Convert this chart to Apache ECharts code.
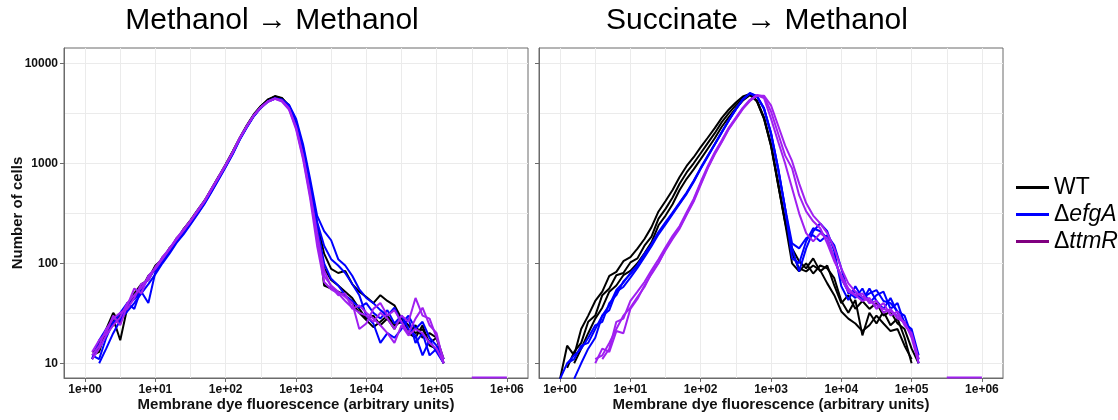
<!DOCTYPE html>
<html>
<head>
<meta charset="utf-8">
<script src="https://cdn.jsdelivr.net/npm/echarts@6/dist/echarts.min.js"></script>
<style>
  html, body { margin: 0; padding: 0; background: #fff; }
  #chart { width: 1118px; height: 420px; }
</style>
</head>
<body>
<div id="chart"></div>
<script>
// bin centres, log10 of membrane dye fluorescence
const LOG_FLUOR = [0.0, 0.1, 0.2, 0.3, 0.4, 0.5, 0.6, 0.7, 0.8, 0.9,
  1.0, 1.1, 1.2, 1.3, 1.4, 1.5, 1.6, 1.7, 1.8, 1.9,
  2.0, 2.1, 2.2, 2.3, 2.4, 2.5, 2.6, 2.7, 2.8, 2.9,
  3.0, 3.1, 3.2, 3.3, 3.4, 3.5, 3.6, 3.7, 3.8, 3.9,
  4.0, 4.1, 4.2, 4.3, 4.4, 4.5, 4.6, 4.7, 4.8, 4.9,
  5.0, 5.1];

// Methanol -> Methanol, number of cells per bin (3 replicates each)
const mmWT = [
  [null,12,13,22,32,25,40,44,60,70,95,110,140,170,220,265,335,420,560,740,980,1320,1800,2400,3100,3750,4300,4700,4500,3750,2450,1300,560,230,60,56,52,48,40,32,27,23,26,30,24,26,20,24,18,20,18,10],
  [null,11,16,19,28,17,36,48,55,75,86,115,135,178,210,260,325,410,540,710,940,1270,1760,2330,3000,3650,4250,4600,4400,3800,2550,1400,620,250,125,88,80,84,62,52,46,40,48,42,38,28,24,20,22,16,18,11],
  [null,13,14,21,24,30,34,50,62,68,92,108,142,165,218,270,340,425,555,730,960,1300,1780,2360,3050,3700,4350,4650,4450,3700,2400,1250,520,210,90,68,60,52,45,35,28,30,24,28,22,30,20,18,24,15,14,10]
];
const mmEfgA = [
  [null,12,11,18,26,28,38,44,52,40,82,105,130,165,200,250,315,400,525,700,930,1250,1740,2300,2980,3600,4150,4450,4350,3850,2800,1550,700,300,210,170,110,95,75,55,45,40,34,30,36,25,30,22,26,18,15,11],
  [null,null,10,14,20,27,33,40,50,62,78,100,125,160,195,245,310,395,520,690,920,1230,1720,2280,2950,3580,4120,4420,4300,3750,2650,1450,640,260,150,110,95,80,62,48,30,25,16,20,18,22,28,16,20,12,14,11],
  [null,11,17,22,25,32,40,35,56,70,88,108,136,170,212,258,325,410,540,715,945,1270,1760,2320,3000,3620,4180,4480,4320,3700,2500,1350,580,230,100,70,60,48,42,36,40,32,28,34,25,30,22,19,12,17,13,10]
];
const mmTtmR = [
  [null,13,17,20,30,24,38,56,50,75,90,115,140,178,218,268,338,425,560,735,970,1300,1790,2360,3040,3640,4150,4420,4150,3450,2200,1100,450,150,65,55,50,42,36,32,30,26,32,28,22,30,26,45,30,28,18,11],
  [null,12,15,22,28,32,35,45,62,68,92,112,140,175,215,265,335,420,555,730,960,1290,1780,2350,3020,3630,4140,4430,4200,3500,2280,1150,480,180,75,60,52,46,40,22,25,35,40,30,34,26,20,28,36,24,20,10],
  [null,11,14,19,24,29,40,48,57,73,88,110,138,172,212,262,330,415,548,722,950,1280,1770,2340,3010,3620,4150,4450,4250,3550,2320,1200,510,200,85,58,48,50,35,38,32,28,24,20,16,24,19,22,20,16,14,10]
];

// Succinate -> Methanol
const smWT = [
  [7,15,12,22,30,42,52,75,82,105,115,140,175,230,330,420,540,730,940,1150,1450,1800,2250,2850,3450,4050,4650,4950,4200,2800,1500,620,260,126,89,83,95,85,63,48,33,28,25,21,24,30,25,21,22,15,11,null],
  [null,9,13,16,26,30,48,56,76,80,102,112,150,185,280,350,455,625,810,1000,1260,1590,2000,2580,3180,3820,4480,4900,4150,2800,1500,620,255,100,83,100,79,95,89,71,42,32,43,19,32,25,33,24,28,18,10,null],
  [null,null,10,14,20,28,36,52,60,76,84,100,126,162,240,300,390,540,700,870,1100,1400,1780,2320,2900,3550,4250,4800,4250,2900,1560,650,270,141,105,89,112,83,95,60,40,48,35,42,35,40,30,33,25,22,14,10]
];
const smEfgA = [
  [7,10,12,14,18,24,26,40,48,66,78,96,124,155,205,258,322,405,510,670,900,1190,1560,2060,2700,3480,4380,5000,4650,3500,1950,870,350,141,83,141,209,251,209,132,59,43,59,45,50,54,42,40,33,30,19,11],
  [null,null,7,10,14,18,30,34,52,58,72,90,115,148,195,245,310,392,495,650,880,1160,1540,2030,2680,3450,4350,5050,4700,3580,2020,910,360,112,100,166,224,209,178,112,71,52,45,56,40,48,52,35,40,25,22,12],
  [null,10,11,15,16,22,30,38,54,64,80,95,122,152,202,250,318,400,505,660,890,1180,1550,2050,2700,3470,4370,4980,4680,3560,2000,900,360,158,141,178,191,166,191,151,89,50,52,42,56,42,35,45,32,26,20,10]
];
const smTtmR = [
  [null,null,null,null,null,11,12,16,22,30,36,46,58,80,102,135,175,222,305,415,610,890,1230,1630,2200,2780,3500,4200,4750,4750,3800,2400,1510,1050,630,400,300,251,200,141,89,63,52,46,42,38,35,33,30,25,19,11],
  [null,null,null,null,null,null,11,14,26,28,42,52,65,85,110,145,188,236,325,440,650,935,1290,1700,2280,2860,3600,4320,4820,4650,3300,2000,1200,890,480,330,263,224,158,105,76,56,48,50,40,42,32,35,28,26,18,10],
  [null,null,null,null,null,10,14,13,21,20,35,44,60,78,100,138,180,228,312,425,628,905,1250,1650,2230,2800,3540,4260,4780,4500,2800,1660,1000,562,316,200,166,200,178,112,71,52,48,42,45,35,40,30,33,24,20,11]
];

// short ΔttmR run lying on the bottom edge near 1e+06
const floorLog = [5.5, 6.0];
const floorCount = [7.2, 7.2];

const panelTitles = ['Methanol \u2192 Methanol', 'Succinate \u2192 Methanol'];
const strains = ['WT', '\u0394efgA', '\u0394ttmR'];
const lineColors = ['#000000', '#0000ff', '#a020f0'];
const legendColors = ['#000000', '#0000ff', '#800080'];
const xTicks = [0, 1, 2, 3, 4, 5, 6];
const yTicks = [1, 2, 3, 4];

const FONT = '"Liberation Sans", Arial, sans-serif';
const BORDER = '#6b6b6b';
const GRID_LINE = '#ebebeb';

function toPoints(counts) {
  return counts.map((c, i) => [LOG_FLUOR[i], c == null ? '-' : Math.log10(c)]);
}

const panels = [[mmWT, mmEfgA, mmTtmR], [smWT, smEfgA, smTtmR]];
const series = [];
panels.forEach((groups, p) => {
  groups.forEach((reps, s) => {
    reps.forEach(counts => {
      series.push({
        type: 'line', name: strains[s], xAxisIndex: p, yAxisIndex: p,
        data: toPoints(counts), showSymbol: false, symbol: 'none',
        lineStyle: { color: lineColors[s], width: 2 }, itemStyle: { color: lineColors[s] },
        silent: true
      });
    });
  });
  series.push({
    type: 'line', name: strains[2], xAxisIndex: p, yAxisIndex: p,
    data: floorLog.map((x, i) => [x, Math.log10(floorCount[i])]),
    symbol: 'none', lineStyle: { color: lineColors[2], width: 2 }, itemStyle: { color: lineColors[2] },
    silent: true
  });
});

const gridLefts = [64, 539];

const xAxis = gridLefts.map((l, i) => ({
  gridIndex: i, type: 'value', min: -0.3, max: 6.3, splitNumber: 7,
  axisLine: { show: true, onZero: false, lineStyle: { color: BORDER } },
  axisTick: { show: true, length: 4, customValues: xTicks, lineStyle: { color: BORDER } },
  axisLabel: {
    customValues: xTicks, margin: 6, fontSize: 12, fontWeight: 'bold', color: '#111', fontFamily: FONT,
    formatter: v => '1e+0' + Math.round(v)
  },
  splitLine: { show: true, lineStyle: { color: GRID_LINE, width: 1 } },
  minorTick: { show: false, splitNumber: 2 },
  minorSplitLine: { show: true, lineStyle: { color: GRID_LINE, width: 1 } },
  name: 'Membrane dye fluorescence (arbitrary units)', nameLocation: 'middle', nameGap: 19,
  nameMoveOverlap: false,
  nameTextStyle: { fontSize: 15, fontWeight: 'bold', color: '#111', fontFamily: FONT }
}));

const yAxis = gridLefts.map((l, i) => ({
  gridIndex: i, type: 'value', min: 0.853, max: 4.153, splitNumber: 3,
  axisLine: { show: true, onZero: false, lineStyle: { color: BORDER } },
  axisTick: { show: true, length: 4, customValues: yTicks, lineStyle: { color: BORDER } },
  axisLabel: {
    show: i === 0, customValues: yTicks, margin: 6, fontSize: 12, fontWeight: 'bold', color: '#111', fontFamily: FONT,
    formatter: v => String(Math.round(Math.pow(10, v)))
  },
  splitLine: { show: true, lineStyle: { color: GRID_LINE, width: 1 } },
  minorTick: { show: false, splitNumber: 2 },
  minorSplitLine: { show: true, lineStyle: { color: GRID_LINE, width: 1 } },
  name: i === 0 ? 'Number of cells' : '', nameLocation: 'middle', nameGap: 39,
  nameMoveOverlap: false,
  nameTextStyle: { fontSize: 15, fontWeight: 'bold', color: '#111', fontFamily: FONT }
}));

const option = {
  animation: false,
  backgroundColor: '#ffffff',
  grid: gridLefts.map(l => ({
    left: l, top: 48, width: 464, height: 330,
    show: true, borderColor: BORDER, borderWidth: 1, backgroundColor: 'transparent'
  })),
  xAxis: xAxis,
  yAxis: yAxis,
  legend: {
    orient: 'vertical', left: 1011, top: 171, icon: 'rect',
    itemWidth: 33, itemHeight: 3, itemGap: 4,
    itemStyle: { borderWidth: 0 },
    data: strains.map((n, i) => ({ name: n, itemStyle: { color: legendColors[i], borderWidth: 0 } })),
    formatter: n => n === 'WT' ? '{t|WT}' : '{t|\u0394}{i|' + n.slice(1) + '}',
    textStyle: {
      fontFamily: FONT, fontSize: 23, color: '#000', lineHeight: 23,
      rich: {
        t: { fontFamily: FONT, fontSize: 23, color: '#000', lineHeight: 23 },
        i: { fontFamily: FONT, fontSize: 23, color: '#000', lineHeight: 23, fontStyle: 'italic' }
      }
    },
    selectedMode: false
  },
  graphic: panelTitles.map((t, i) => ({
    type: 'text', x: [272, 757][i], y: 21,
    style: { text: t, fontSize: 30, fontFamily: FONT, fill: '#000', align: 'center', verticalAlign: 'middle' }
  })),
  series: series
};

const chart = echarts.init(document.getElementById('chart'));
chart.setOption(option);
</script>
</body>
</html>
